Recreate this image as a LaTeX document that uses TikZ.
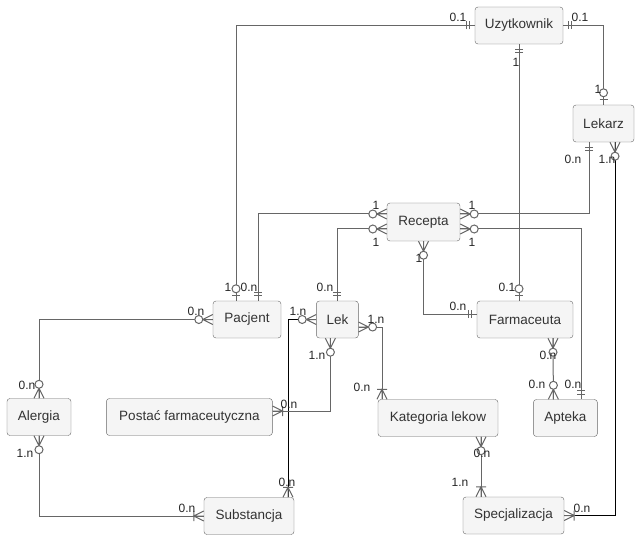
\documentclass[tikz,border=0pt]{standalone}
\usepackage{fontspec}
\setmainfont{Liberation Sans}
\usepackage{xcolor}
\usepackage{tikz}
\usetikzlibrary{positioning, calc}
\definecolor{boxfill}{HTML}{F5F5F5}
\definecolor{boxline}{HTML}{666666}
\definecolor{boxtext}{HTML}{333333}

\begin{document}
\begin{tikzpicture}[
  x=1pt, y=-1pt,
  ent/.style={rectangle, draw=boxline, fill=boxfill, rounded corners=3pt,
              minimum width=#1, minimum height=37pt, inner sep=0pt,
              text=boxtext, font=\fontsize{13.5}{16}\selectfont},
  rel/.style={draw=boxline, line width=1pt},
  relb/.style={draw=black, line width=0.8pt},
  card/.style={font=\fontsize{12}{14}\selectfont, text=black!85, inner sep=0pt},
  every pic/.style={color=boxline, line width=1pt},
  mandone/.pic={\draw (5,-4) -- (5,4) (8.5,-4) -- (8.5,4);},
  zeroone/.pic={\draw (5,-4) -- (5,4); \filldraw[fill=white] (12,0) circle (4pt);},
  zeromany/.pic={\draw (0,-5) -- (10,0) -- (0,5) (0,0) -- (10,0); \filldraw[fill=white] (14,0) circle (4pt);},
  onemany/.pic={\draw (0,-5) -- (10,0) -- (0,5) (0,0) -- (10,0) (10,-5) -- (10,5);}
]
\useasboundingbox (0,0) rectangle (640,540);

% encje
\node[ent=88pt]  (uzyt)    at (519,25.5)  {Uzytkownik};
\node[ent=61pt]  (lekarz)  at (603.5,123.5) {Lekarz};
\node[ent=73pt, minimum height=38pt] (recepta) at (423.5,222) {Recepta};
\node[ent=68pt]  (pacjent) at (247,319.5) {Pacjent};
\node[ent=42pt, right=35pt of pacjent] (lek) {Lek};
\node[ent=96pt]  (farm)    at (525,319.5) {Farmaceuta};
\node[ent=64pt]  (alergia) at (39,417)    {Alergia};
\node[ent=166pt, right=35pt of alergia] (postac) {Postać farmaceutyczna};
\node[ent=120pt] (kat)     at (438,418)   {Kategoria lekow};
\node[ent=64pt, right=35pt of kat] (apteka) {Apteka};
\node[ent=90pt]  (subst)   at (249,516)   {Substancja};
\node[ent=101pt] (spec)    at (513.5,515.5) {Specjalizacja};

% relacje
\draw[rel]  (uzyt.west) -| ([xshift=-11pt]pacjent.north);
\draw[rel]  (uzyt.east) -| (lekarz.north);
\draw[rel]  (uzyt.south) -- (uzyt.south |- farm.north);
\draw[rel]  ([yshift=8pt]recepta.east) -| ([xshift=-14.5pt]lekarz.south);
\draw[relb] ([xshift=11.5pt]lekarz.south) |- (spec.east);
\draw[rel]  ([yshift=8pt]recepta.west) -| ([xshift=11pt]pacjent.north);
\draw[rel]  ([yshift=-7pt]recepta.west) -| (lek.north);
\draw[rel]  ([yshift=-7pt]recepta.east) -| ([xshift=16pt]apteka.north);
\draw[rel]  (recepta.south) |- ([yshift=5.5pt]farm.west);
\draw[rel]  ([xshift=28pt]farm.south) -- ([xshift=-12pt]apteka.north);
\draw[rel]  (pacjent.west) -| (alergia.north);
\draw[rel]  (alergia.south) |- (subst.west);
\draw[relb] (lek.west) -| ([xshift=39pt]subst.north);
\draw[rel]  ([xshift=-7pt]lek.south) |- ([yshift=6pt]postac.east);
\draw[rel]  ([yshift=-7.5pt]lek.east) -| ([xshift=-56pt]kat.north);
\draw[rel]  ([xshift=43pt]kat.south) -- ([xshift=43pt]kat.south |- spec.north);

% krotnosci
\pic[rotate=180] at (uzyt.west) {mandone};
\pic[rotate=90]  at ([xshift=-11pt]pacjent.north) {zeroone};
\pic             at (uzyt.east) {mandone};
\pic[rotate=90]  at (lekarz.north) {zeroone};
\pic[rotate=-90] at (uzyt.south) {mandone};
\pic[rotate=90]  at (uzyt.south |- farm.north) {zeroone};
\pic             at ([yshift=8pt]recepta.east) {zeromany};
\pic[rotate=-90] at ([xshift=-14.5pt]lekarz.south) {mandone};
\pic[rotate=-90] at ([xshift=11.5pt]lekarz.south) {zeromany};
\pic[color=black] at (spec.east) {onemany};
\pic[rotate=180] at ([yshift=8pt]recepta.west) {zeromany};
\pic[rotate=90]  at ([xshift=11pt]pacjent.north) {mandone};
\pic[rotate=180] at ([yshift=-7pt]recepta.west) {zeromany};
\pic[rotate=90]  at (lek.north) {mandone};
\pic             at ([yshift=-7pt]recepta.east) {zeromany};
\pic[rotate=90]  at ([xshift=16pt]apteka.north) {mandone};
\pic[rotate=-90] at (recepta.south) {zeromany};
\pic[rotate=180] at ([yshift=5.5pt]farm.west) {mandone};
\pic[rotate=-90] at ([xshift=28pt]farm.south) {zeromany};
\pic[rotate=90]  at ([xshift=-12pt]apteka.north) {zeromany};
\pic[rotate=180] at (pacjent.west) {zeromany};
\pic[rotate=90]  at (alergia.north) {zeromany};
\pic[rotate=-90] at (alergia.south) {zeromany};
\pic[rotate=180] at (subst.west) {onemany};
\pic[rotate=180] at (lek.west) {zeromany};
\pic[rotate=90, color=black] at ([xshift=39pt]subst.north) {onemany};
\pic[rotate=-90] at ([xshift=-7pt]lek.south) {zeromany};
\pic             at ([yshift=6pt]postac.east) {onemany};
\pic             at ([yshift=-7.5pt]lek.east) {zeromany};
\pic[rotate=90]  at ([xshift=-56pt]kat.north) {onemany};
\pic[rotate=-90] at ([xshift=43pt]kat.south) {zeromany};
\pic[rotate=90]  at ([xshift=43pt]kat.south |- spec.north) {onemany};

% etykiety
\node[card] (uzytW)    at (458,17)  {0.1};
\node[card] (uzytE)    at (580,17)  {0.1};
\node[card] (uzytS)    at (516,62)  {1};
\node[card] (lekarzN)  at (598,89)  {1};
\node[card] (lekarzSW) at (573,159) {0.n};
\node[card] (lekarzSE) at (607,159) {1.n};
\node[card] (pacjentNW) at (228,287) {1};
\node[card] (pacjentNE) at (249,287) {0.n};
\node[card] (receptaWN) at (376,205) {1};
\node[card] (receptaWS) at (376,242) {1};
\node[card] (receptaEN) at (472,205) {1};
\node[card] (receptaES) at (472,242) {1};
\node[card] (receptaS)  at (419,258) {1};
\node[card] (lekN)     at (325,287) {0.n};
\node[card] (farmN)    at (507,287) {0.1};
\node[card] (farmW)    at (458,306) {0.n};
\node[card] (pacjentW) at (196,311) {0.n};
\node[card] (lekW)     at (298,311) {1.n};
\node[card] (lekE)     at (376,319) {1.n};
\node[card] (lekS)     at (317,355) {1.n};
\node[card] (postacE)  at (289,404) {0.n};
\node[card] (katN)     at (362,387) {0.n};
\node[card] (alergiaN) at (27,385)  {0.n};
\node[card] (alergiaS) at (25,453)  {1.n};
\node[card] (substW)   at (187,508) {0.n};
\node[card] (substN)   at (287,482) {0.n};
\node[card] (farmS)    at (548,355) {0.n};
\node[card] (aptekaNW) at (537,384) {0.n};
\node[card] (aptekaNE) at (573,384) {0.n};
\node[card] (katS)     at (482,453) {0.n};
\node[card] (specN)    at (460,482) {1.n};
\node[card] (specE)    at (582,508) {0.n};
\end{tikzpicture}
\end{document}
